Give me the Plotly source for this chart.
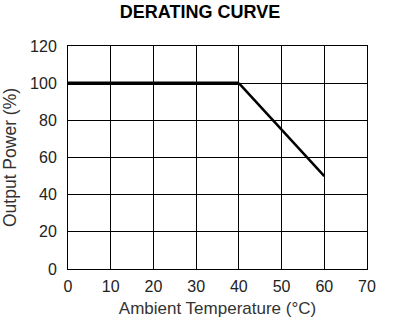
import plotly.graph_objects as go

temps = [0, 40, 60]
power = [100, 100, 50]
x_ticks = [0, 10, 20, 30, 40, 50, 60, 70]
y_ticks = [0, 20, 40, 60, 80, 100, 120]

fig = go.Figure()
fig.add_trace(go.Scatter(x=temps[:2], y=power[:2], mode="lines",
                         line=dict(color="black", width=3.5), showlegend=False))
fig.add_trace(go.Scatter(x=temps[1:], y=power[1:], mode="lines",
                         line=dict(color="black", width=2.5), showlegend=False))

font = "Liberation Sans, Arial, sans-serif"
fig.update_layout(
    width=400, height=321,
    margin=dict(l=68, r=33, t=46, b=52),
    paper_bgcolor="white", plot_bgcolor="white",
    title=dict(text="<b>DERATING CURVE</b>", x=0.5, xref="container", xanchor="center",
               y=1 - 12 / 321, yref="container", yanchor="middle",
               font=dict(family=font, size=18, color="black")),
    font=dict(family=font, size=16, color="#222"),
)

fig.update_xaxes(range=[0, 70], tickvals=x_ticks, showgrid=True, gridcolor="black", gridwidth=1,
                 showline=True, linecolor="black", linewidth=1, mirror=True, zeroline=False,
                 automargin=False,
                 ticks="", ticklabelstandoff=3, tickfont=dict(size=16, color="#222"),
                 title=dict(text="Ambient Temperature (°C)", font=dict(size=17, color="#333"), standoff=7))
fig.update_yaxes(range=[0, 120], tickvals=y_ticks, showgrid=True, gridcolor="black", gridwidth=1,
                 showline=True, linecolor="black", linewidth=1, mirror=True, zeroline=False,
                 automargin=False,
                 ticks="", ticklabelstandoff=7, tickfont=dict(size=16, color="#222"),
                 title=dict(text="Output Power (%)", font=dict(size=17.5, color="#333"), standoff=15))

fig.write_html("out.html")
